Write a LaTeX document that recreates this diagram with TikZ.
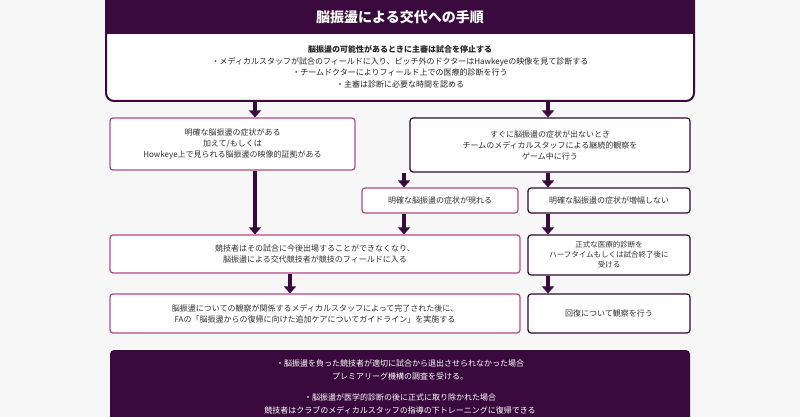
\documentclass[tikz,border=0pt]{standalone}
\usepackage{fontspec}
\setmainfont{Noto Sans CJK JP}
\usetikzlibrary{arrows.meta}
\definecolor{dp}{HTML}{3A0A3E}
\definecolor{pk}{HTML}{B24A86}
\tikzset{
 pbox/.style={draw=pk,line width=1.2pt,rounded corners=3pt,align=center,font=\fontsize{8}{11}\selectfont,text=black!80,fill=white},
 dbox/.style={draw=dp!80!black,line width=1.2pt,rounded corners=3pt,align=center,font=\fontsize{8}{11}\selectfont,text=black!80,fill=white},
 arr/.style={dp,line width=3.5pt,-{Triangle[width=12pt,length=7pt]}},
}
\begin{document}
\begin{tikzpicture}[x=1pt,y=-1pt]
\useasboundingbox (0,0) rectangle (800,417);
\fill[black!3] (0,0) rectangle (800,417);
% top box
\draw[dp,line width=2pt,rounded corners=8pt,fill=white] (106,-10) rectangle (694,101);
\fill[dp] (107,-9) rectangle (693,34);
\node[text=white,font=\fontsize{14}{16}\selectfont\bfseries] (title) at (400,17) {脳振盪による交代への手順};
\node[align=center,font=\fontsize{8}{11.5}\selectfont,text=black!85] (top) at (400,67) {{\bfseries 脳振盪の可能性があるときに主審は試合を停止する}\\・メディカルスタッフが試合のフィールドに入り、ピッチ外のドクターはHawkeyeの映像を見て診断する\\・チームドクターによりフィールド上での医療的診断を行う\\・主審は診断に必要な時間を認める};
\coordinate (tl) at (255,101); \coordinate (tr) at (548,101);
\node[pbox,minimum width=245pt,minimum height=52pt] (a) at (232.5,144) {明確な脳振盪の症状がある\\加えて/もしくは\\Howkeye上で見られる脳振盪の映像的証拠がある};
\node[dbox,minimum width=280pt,minimum height=54pt] (b) at (550,145) {すぐに脳振盪の症状が出ないとき\\チームのメディカルスタッフによる継続的観察を\\ゲーム中に行う};
\node[pbox,minimum width=156pt,minimum height=25pt] (c) at (440,200.5) {明確な脳振盪の症状が現れる};
\node[dbox,minimum width=162pt,minimum height=25pt] (d) at (609,200.5) {明確な脳振盪の症状が増幅しない};
\node[pbox,minimum width=410pt,minimum height=38pt] (e) at (315,254) {競技者はその試合に今後出場することができなくなり、\\脳振盪による交代競技者が競技のフィールドに入る};
\node[dbox,minimum width=162pt,minimum height=40pt,font=\fontsize{7.5}{10}\selectfont] (f) at (609,255) {正式な医療的診断を\\ハーフタイムもしくは試合終了後に\\受ける};
\node[pbox,minimum width=410pt,minimum height=39pt] (g) at (315,313.5) {脳振盪についての観察が関係するメディカルスタッフによって完了された後に、\\FAの「脳振盪からの復帰に向けた追加ケアについてガイドライン」を実施する};
\node[dbox,minimum width=162pt,minimum height=39pt] (h) at (609,313.5) {回復について観察を行う};
\fill[dp,rounded corners=4pt] (110,350) rectangle (690,425);
\node[text=white,align=center,font=\fontsize{8}{13.5}\selectfont] (bot) at (400,387) {・脳振盪を負った競技者が適切に試合から退出させられなかった場合\\プレミアリーグ機構の調査を受ける。\\[7pt]・脳振盪が医学的診断の後に正式に取り除かれた場合\\競技者はクラブのメディカルスタッフの指導の下トレーニングに復帰できる};
\draw[arr] (tl) -- (a.north -| tl);
\draw[arr] (tr) -- (b.north -| tr);
\draw[arr] (a.south -| tl) -- (e.north -| tl);
\draw[arr] (b.south -| 404,0) -- (c.north -| 404,0);
\draw[arr] (b.south -| tr) -- (d.north -| tr);
\draw[arr] (c.south -| 404,0) -- (e.north -| 404,0);
\draw[arr] (d.south -| tr) -- (f.north -| tr);
\draw[arr] (e.south -| 290,0) -- (g.north -| 290,0);
\draw[arr] (f.south -| tr) -- (h.north -| tr);
\end{tikzpicture}
\end{document}
